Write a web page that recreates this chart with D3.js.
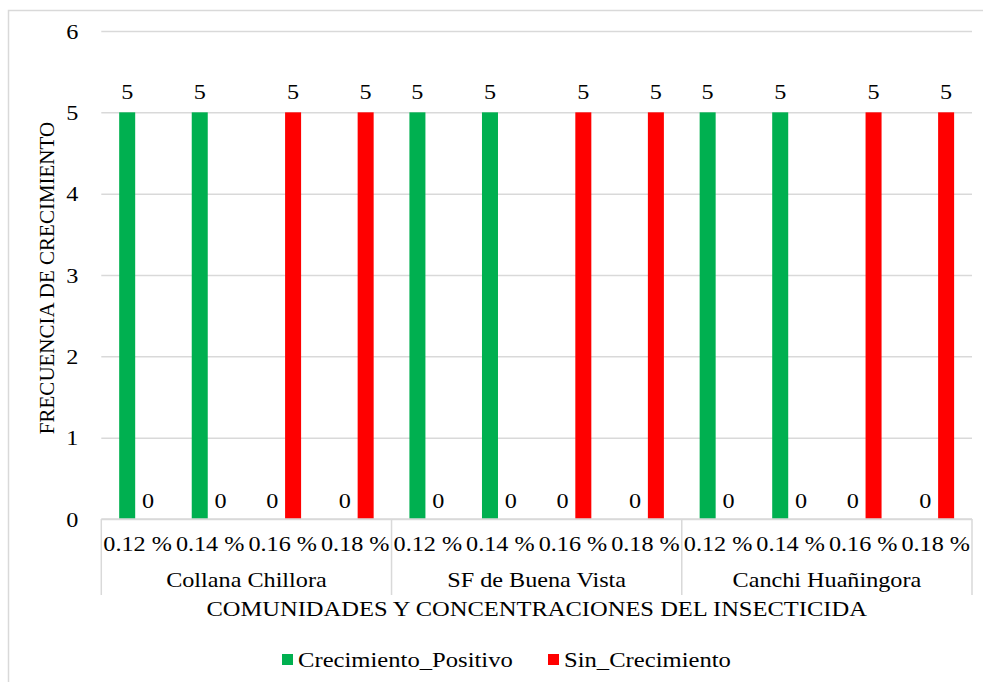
<!DOCTYPE html>
<html>
<head>
<meta charset="utf-8">
<script src="https://cdn.jsdelivr.net/npm/d3@7"></script>
<style>
  body { margin: 0; background: #fff; }
  text { font-family: "Liberation Serif", "Times New Roman", serif; fill: #000; }
</style>
</head>
<body>
<script>
const comunidades = ["Collana Chillora", "SF de Buena Vista", "Canchi Huañingora"]
const concentraciones = ["0.12 %", "0.14 %", "0.16 %", "0.18 %"]
const series = ["Crecimiento_Positivo", "Sin_Crecimiento"]
const crecimiento_positivo = [5, 5, 0, 0, 5, 5, 0, 0, 5, 5, 0, 0]
const sin_crecimiento = [0, 0, 5, 5, 0, 0, 5, 5, 0, 0, 5, 5]
const y_ticks = [0, 1, 2, 3, 4, 5, 6]
const colores = ["#00b050", "#ff0000"]

const width = 983, height = 682
const margin = { left: 101.3, right: 11, top: 31, bottom: 163 }
const font_size = 22
const stretch = 1.1   // the reference text is a bit wider than tall

// one row per community + concentration
var rows = []
comunidades.forEach((c, i) => {
    concentraciones.forEach((k, j) => {
        let idx = i * concentraciones.length + j
        rows.push({ key: c + "|" + k, comunidad: c, conc: k,
                    values: [crecimiento_positivo[idx], sin_crecimiento[idx]] })
    })
})

var svg = d3.select("body").append("svg").attr("width", width).attr("height", height)

// outer frame (only top and left show in the picture)
svg.append("path")
    .attr("d", `M8.5,${height} V10.5 H${width}`)
    .attr("fill", "none").attr("stroke", "#d9d9d9").attr("stroke-width", 1.5)

var x0 = d3.scaleBand()
    .domain(rows.map(r => r.key))
    .range([margin.left, width - margin.right])

var xg = d3.scaleBand()
    .domain(comunidades)
    .range([margin.left, width - margin.right])

var x1 = d3.scaleBand()
    .domain(series)
    .range([0, x0.bandwidth()])
    .paddingInner(0.23)
    .paddingOuter(0.86)

var y = d3.scaleLinear().domain([0, 6]).range([height - margin.bottom, margin.top])

// grid + y labels
var yaxis = svg.append("g")
    .attr("transform", `translate(${margin.left},0)`)
    .call(d3.axisLeft(y).tickValues(y_ticks).tickFormat(d3.format("d"))
        .tickSize(-(width - margin.right - margin.left)).tickPadding(23))
yaxis.select(".domain").remove()
yaxis.selectAll("line").attr("stroke", "#d9d9d9").attr("stroke-width", 1.5)
yaxis.selectAll("text")
    .style("font-size", font_size + "px")
    .style("font-family", "'Liberation Serif', 'Times New Roman', serif")
    .attr("transform", `scale(${stretch},1)`)
    .attr("x", -23 / stretch)

// bars
var cats = svg.append("g").selectAll("g")
    .data(rows)
    .enter()
    .append("g")
    .attr("transform", r => `translate(${x0(r.key)},0)`)

cats.selectAll("rect")
    .data(r => r.values.map((v, i) => ({ serie: series[i], value: v, i: i })))
    .enter()
    .append("rect")
    .attr("x", d => x1(d.serie))
    .attr("width", x1.bandwidth())
    .attr("y", d => y(d.value))
    .attr("height", d => y(0) - y(d.value))
    .attr("fill", d => colores[d.i])

cats.selectAll("text")
    .data(r => r.values.map((v, i) => ({ serie: series[i], value: v })))
    .enter()
    .append("text")
    .attr("transform", d => `translate(${x1(d.serie) + x1.bandwidth() / 2},${y(d.value) - (d.value ? 13 : 11)}) scale(${stretch},1)`)
    .attr("text-anchor", "middle")
    .style("font-size", font_size + "px")
    .text(d => d.value)

// category axis
var xaxis = svg.append("g")
xaxis.append("line")
    .attr("x1", margin.left).attr("x2", width - margin.right)
    .attr("y1", y(0)).attr("y2", y(0))
    .attr("stroke", "#d9d9d9").attr("stroke-width", 1.5)

var bounds = comunidades.map(c => xg(c)).concat([xg.range()[1]])
xaxis.selectAll(".sep")
    .data(bounds)
    .enter()
    .append("line")
    .attr("x1", d => d).attr("x2", d => d)
    .attr("y1", y(0)).attr("y2", y(0) + 76)
    .attr("stroke", "#d9d9d9").attr("stroke-width", 1.5)

xaxis.selectAll(".conc")
    .data(rows)
    .enter()
    .append("text")
    .attr("transform", r => `translate(${x0(r.key) + x0.bandwidth() / 2},${y(0) + 32}) scale(${stretch},1)`)
    .attr("text-anchor", "middle")
    .style("font-size", font_size + "px")
    .text(r => r.conc)

xaxis.selectAll(".com")
    .data(comunidades)
    .enter()
    .append("text")
    .attr("transform", c => `translate(${xg(c) + xg.bandwidth() / 2},${y(0) + 68}) scale(${stretch},1)`)
    .attr("text-anchor", "middle")
    .style("font-size", font_size + "px")
    .text(c => c)

// axis titles
svg.append("text")
    .attr("transform", `translate(${(margin.left + width - margin.right) / 2},${y(0) + 97}) scale(1.115,1)`)
    .attr("text-anchor", "middle")
    .style("font-size", font_size + "px")
    .text("COMUNIDADES Y CONCENTRACIONES DEL INSECTICIDA")

svg.append("text")
    .attr("transform", `translate(54,278) rotate(-90)`)
    .attr("text-anchor", "middle")
    .style("font-size", "21px")
    .text("FRECUENCIA DE CRECIMIENTO")

// legend
var legend = svg.append("g").attr("transform", "translate(282,660)")
var lx = [0, 266]
series.forEach((s, i) => {
    legend.append("rect")
        .attr("x", lx[i]).attr("y", -6)
        .attr("width", 11).attr("height", 11)
        .attr("fill", colores[i])
    legend.append("text")
        .attr("transform", `translate(${lx[i] + 16},7) scale(1.12,1)`)
        .style("font-size", font_size + "px")
        .text(s)
})
</script>
</body>
</html>
